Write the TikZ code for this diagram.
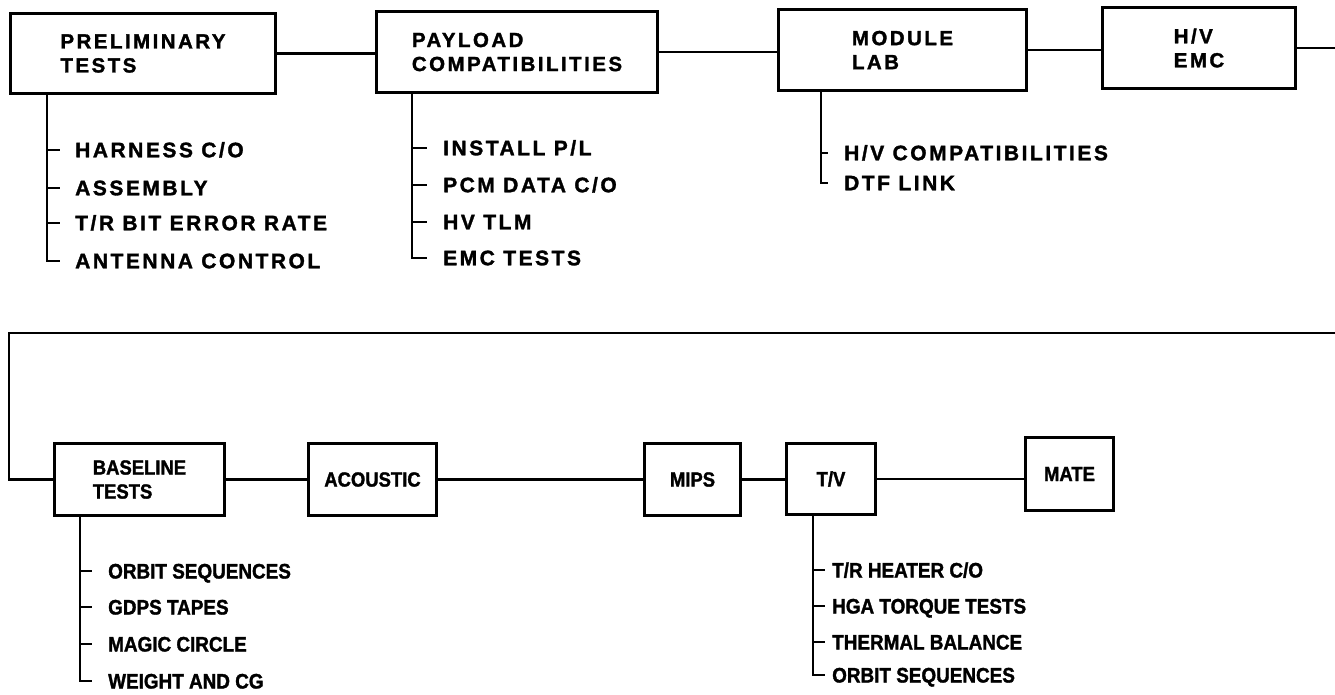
\documentclass[tikz,border=0pt]{standalone}
\usepackage{fontspec}
\newfontfamily\topf{Liberation Sans}[LetterSpace=12, FakeBold=1.5, UprightFont=* Bold, BoldFont=* Bold]
\newfontfamily\botf{Liberation Sans}[FakeStretch=0.9, FakeBold=1.5, UprightFont=* Bold, BoldFont=* Bold]
\tikzset{
  box/.style={draw, line width=3pt, inner sep=0pt, align=left},
  topbox/.style={box, font=\topf\fontsize{20.5}{24}\selectfont},
  botbox/.style={box, font=\botf\fontsize{20.5}{24}\selectfont},
  conn/.style={line width=2.4pt},
  itemt/.style={inner sep=0pt, anchor=west, text height=14.5pt, text depth=0pt, font=\topf\fontsize{21}{24}\selectfont},
  itemb/.style={inner sep=0pt, anchor=west, text height=15pt, text depth=0pt, font=\botf\fontsize{21}{24}\selectfont}
}
\begin{document}
\begin{tikzpicture}[x=1pt,y=-1pt]
\useasboundingbox (0,0) rectangle (1335,694);
% top row boxes
\node[topbox, minimum width=265pt, minimum height=80pt] (pre) at (143,53.5) {PRELIMINARY\\TESTS};
\node[topbox, minimum width=281pt, minimum height=81pt] (pay) at (517,52) {PAYLOAD\\COMPATIBILITIES};
\node[topbox, minimum width=248pt, minimum height=81pt] (mod) at (902.5,50) {MODULE\\LAB};
\node[topbox, minimum width=193pt, minimum height=81pt] (hve) at (1199,48) {H/V\\EMC};
% bottom row boxes
\node[botbox, minimum width=170pt, minimum height=72pt] (bas) at (139.5,479.5) {BASELINE\\TESTS};
\node[botbox, minimum width=128pt, minimum height=72pt] (aco) at (372.5,479.5) {ACOUSTIC};
\node[botbox, minimum width=96pt, minimum height=72pt] (mip) at (692.5,479.5) {MIPS};
\node[botbox, minimum width=89pt, minimum height=71pt] (tv) at (831,479) {T/V};
\node[botbox, minimum width=88pt, minimum height=73pt] (mat) at (1069.5,474) {MATE};
% connectors top
\draw[conn] (pre.east) -- (pre.east -| pay.west);
\draw[conn] (pay.east) -- (pay.east -| mod.west);
\draw[conn] (mod.east) -- (mod.east -| hve.west);
\coordinate (e1) at (1335,48);
\draw[conn] (hve.east) -- (e1);
\coordinate (e2) at (1335,333);
\coordinate (e3) at (9,333);
\draw[conn] (e2) -- (e3) |- (bas.west);
% connectors bottom
\draw[conn] (bas.east) -- (bas.east -| aco.west);
\draw[conn] (aco.east) -- (aco.east -| mip.west);
\draw[conn] (mip.east) -- (mip.east -| tv.west);
\draw[conn] (tv.east) -- (tv.east -| mat.west);
% preliminary list
\node[itemt] (p1) at (75,150) {HARNESS C/O};
\node[itemt] (p2) at (75,188) {ASSEMBLY};
\node[itemt] (p3) at (75,223) {T/R BIT ERROR RATE};
\node[itemt] (p4) at (75,261) {ANTENNA CONTROL};
\draw[conn] (47,0 |- pre.south) |- ([xshift=-15pt]p4.west);
\foreach \n in {p1,p2,p3} \draw[conn] (47,0 |- \n.west) -- ([xshift=-15pt]\n.west);
% payload list
\node[itemt] (q1) at (443,148) {INSTALL P/L};
\node[itemt] (q2) at (443,185) {PCM DATA C/O};
\node[itemt] (q3) at (443,222) {HV TLM};
\node[itemt] (q4) at (443,258) {EMC TESTS};
\draw[conn] (412,0 |- pay.south) |- ([xshift=-16pt]q4.west);
\foreach \n in {q1,q2,q3} \draw[conn] (412,0 |- \n.west) -- ([xshift=-16pt]\n.west);
% module list
\node[itemt] (m1) at (844,153) {H/V COMPATIBILITIES};
\node[itemt] (m2) at (844,183) {DTF LINK};
\draw[conn] (821,0 |- mod.south) |- ([xshift=-16pt]m2.west);
\draw[conn] (821,0 |- m1.west) -- ([xshift=-16pt]m1.west);
% baseline list
\node[itemb] (b1) at (108,571) {ORBIT SEQUENCES};
\node[itemb] (b2) at (108,607) {GDPS TAPES};
\node[itemb] (b3) at (108,644) {MAGIC CIRCLE};
\node[itemb] (b4) at (108,681) {WEIGHT AND CG};
\draw[conn] (80,0 |- bas.south) |- ([xshift=-16pt]b4.west);
\foreach \n in {b1,b2,b3} \draw[conn] (80,0 |- \n.west) -- ([xshift=-16pt]\n.west);
% t/v list
\node[itemb] (t1) at (832,570) {T/R HEATER C/O};
\node[itemb] (t2) at (832,606) {HGA TORQUE TESTS};
\node[itemb] (t3) at (832,642) {THERMAL BALANCE};
\node[itemb] (t4) at (832,675) {ORBIT SEQUENCES};
\draw[conn] (813,0 |- tv.south) |- ([xshift=-7pt]t4.west);
\foreach \n in {t1,t2,t3} \draw[conn] (813,0 |- \n.west) -- ([xshift=-7pt]\n.west);
\end{tikzpicture}
\end{document}
